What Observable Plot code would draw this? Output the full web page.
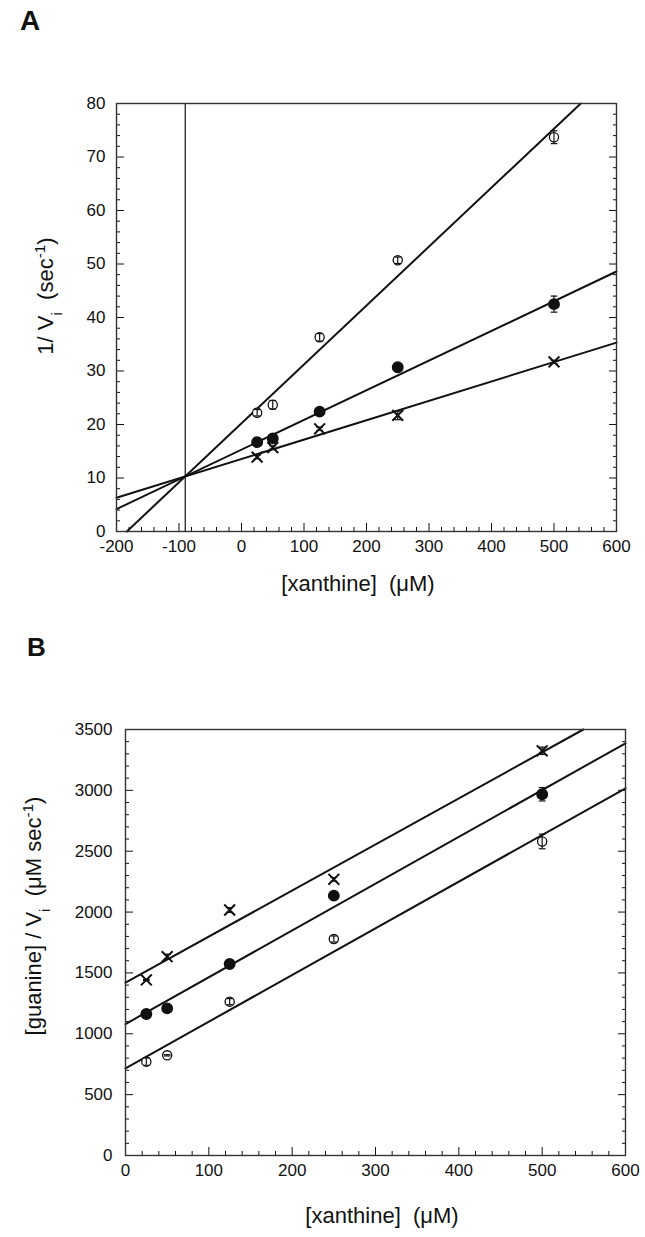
<!DOCTYPE html>
<html><head><meta charset="utf-8">
<script src="https://cdn.jsdelivr.net/npm/d3@7"></script>
<script src="https://cdn.jsdelivr.net/npm/@observablehq/plot@0.6"></script>
<style>
body{margin:0;background:#fff;}
#fig{width:645px;height:1237px;font-family:"Liberation Sans",Arial,Helvetica,sans-serif;}
#fig svg{display:block;}
</style></head><body><div id="fig"></div>
<script>
// ---------- Panel A : 1/Vi vs [xanthine] ----------
const concA = [25, 50, 125, 250, 500];
const openA = [22.2, 23.7, 36.3, 50.7, 73.7];
const openErrA = [0.6, 0.8, 0.7, 0.6, 1.2];
const filledA = [16.7, 17.4, 22.4, 30.7, 42.5];
const filledErrA = [0.4, 0.5, 0.4, 0.4, 1.5];
const crossA = [13.9, 15.7, 19.2, 21.7, 31.7];
const crossErrA = [0.3, 0.3, 0.3, 0.8, 0.3];
// fitted lines (end points [x, y])
const fitOpenA = [[-183.5, 0], [542.8, 80]];
const fitFilledA = [[-200, 4.2], [600, 48.6]];
const fitCrossA = [[-200, 6.3], [600, 35.3]];
const intersectA = [-90];
const xTicksA = [-200, -100, 0, 100, 200, 300, 400, 500, 600];
const yTicksA = [0, 10, 20, 30, 40, 50, 60, 70, 80];

// ---------- Panel B : [guanine]/Vi vs [xanthine] ----------
const concB = [25, 50, 125, 250, 500];
const crossB = [1442, 1633, 2017, 2269, 3325];
const crossErrB = [5, 20, 20, 15, 30];
const filledB = [1163, 1209, 1573, 2135, 2968];
const filledErrB = [20, 20, 20, 20, 55];
const openB = [771, 823, 1264, 1779, 2580];
const openErrB = [30, 5, 25, 25, 60];
const fitCrossB = [[0, 1420], [549.4, 3500]];
const fitFilledB = [[0, 1080], [600, 3387]];
const fitOpenB = [[0, 716], [600, 3017]];
const xTicksB = [0, 100, 200, 300, 400, 500, 600];
const yTicksB = [0, 500, 1000, 1500, 2000, 2500, 3000, 3500];

const FONT = '"Liberation Sans", Arial, Helvetica, sans-serif';
const INK = "#111";
const fmt = d => String(d);

const rows = (xs, ys, es) => xs.map((x, i) => ({x, y: ys[i], e: es[i]}));
const pts = (arr) => arr.map(([x, y]) => ({x, y}));
const cap = {draw(ctx, size) { const w = Math.sqrt(size) / 2; ctx.moveTo(-w, 0); ctx.lineTo(w, 0); }};

function minor(lo, hi, step, majorStep) {
  return d3.range(lo, hi + step / 2, step).filter(v => Math.abs(v % majorStep) > 1e-9);
}

function axes(xMaj, xMin, yMaj, yMin, pad) {
  const o = {label: null};
  return [
    Plot.axisX({...o, ticks: xMaj, tickSize: -8, fill: "none", stroke: INK}),
    Plot.axisX({...o, ticks: xMin, tickSize: -4, fill: "none", stroke: INK}),
    Plot.axisX({...o, ticks: xMaj, tickSize: 0, tickPadding: pad.x, tickFormat: fmt, fontSize: 17, fill: INK}),
    Plot.axisY({...o, ticks: yMaj, tickSize: -8, fill: "none", stroke: INK}),
    Plot.axisY({...o, ticks: yMin, tickSize: -4, fill: "none", stroke: INK}),
    Plot.axisY({...o, ticks: yMaj, tickSize: 0, tickPadding: pad.y, tickFormat: fmt, fontSize: 17, fill: INK}),
    Plot.axisY({...o, anchor: "right", ticks: yMaj, tickSize: -8, fill: "none", stroke: INK}),
    Plot.axisY({...o, anchor: "right", ticks: yMin, tickSize: -4, fill: "none", stroke: INK})
  ];
}

function seriesMarks(open, filled, cross, fits, capR) {
  const all = [...open, ...filled, ...cross];
  const m = fits.map(f => Plot.line(pts(f), {x: "x", y: "y", stroke: INK, strokeWidth: 2}));
  return [
    ...m,
    Plot.dot(open, {x: "x", y: "y", r: 4.6, fill: "white", stroke: INK, strokeWidth: 1.3}),
    Plot.ruleX(all, {x: "x", y1: d => d.y - d.e, y2: d => d.y + d.e, stroke: INK, strokeWidth: 1.2}),
    Plot.dot(filled, {x: "x", y: "y", r: 5.2, fill: INK, stroke: INK}),
    Plot.dot(cross, {x: "x", y: "y", r: 5, symbol: "times", stroke: INK, strokeWidth: 2}),
    Plot.dot(all, {x: "x", y: d => d.y - d.e, r: capR, symbol: cap, fill: "none", stroke: INK, strokeWidth: 1.2}),
    Plot.dot(all, {x: "x", y: d => d.y + d.e, r: capR, symbol: cap, fill: "none", stroke: INK, strokeWidth: 1.2})
  ];
}

function addText(svg, x, y, rotate, size, parts, weight) {
  const t = d3.select(svg).append("text")
    .attr("transform", `translate(${x},${y}) rotate(${rotate})`)
    .attr("text-anchor", rotate ? "middle" : (weight ? "start" : "middle"))
    .attr("font-family", FONT).attr("font-size", size).attr("fill", INK)
    .style("white-space", "pre");
  if (weight) t.attr("font-weight", weight);
  for (const [s, kind] of parts) {
    const ts = t.append("tspan").text(s);
    if (kind === "sub") ts.attr("baseline-shift", "sub").attr("font-size", size * 0.7);
    if (kind === "sup") ts.attr("baseline-shift", "super").attr("font-size", size * 0.7);
  }
}

// ---------- build A ----------
const plotA = Plot.plot({
  width: 645, height: 620,
  marginTop: 103, marginBottom: 89, marginLeft: 116, marginRight: 29,
  style: {fontFamily: FONT, fontSize: "17px", color: INK, background: "white"},
  x: {domain: [-200, 600]},
  y: {domain: [0, 80]},
  marks: [
    ...axes(xTicksA, minor(-200, 600, 20, 100), yTicksA, minor(0, 80, 2, 10), {x: 8, y: 11}),
    Plot.ruleX(intersectA, {stroke: INK, strokeWidth: 1.2}),
    ...seriesMarks(rows(concA, openA, openErrA), rows(concA, filledA, filledErrA), rows(concA, crossA, crossErrA),
      [fitOpenA, fitFilledA, fitCrossA], 3.8),
    Plot.frame({stroke: "#333", strokeWidth: 1.4})
  ]
});
addText(plotA, 20, 30, 0, 28, [["A"]], "bold");
addText(plotA, 358, 591, 0, 22, [["[xanthine]  (\u03bcM)"]]);
addText(plotA, 53, 296, -90, 22, [["1/ V"], ["i", "sub"], ["  (sec"], ["-1", "sup"], [")"]]);
document.getElementById("fig").append(plotA);

// ---------- build B ----------
const plotB = Plot.plot({
  width: 645, height: 617,
  marginTop: 109, marginBottom: 82, marginLeft: 125, marginRight: 20,
  style: {fontFamily: FONT, fontSize: "17px", color: INK, background: "white"},
  x: {domain: [0, 600]},
  y: {domain: [0, 3500]},
  marks: [
    ...axes(xTicksB, minor(0, 600, 20, 100), yTicksB, minor(0, 3500, 100, 500), {x: 8, y: 13}),
    ...seriesMarks(rows(concB, openB, openErrB), rows(concB, filledB, filledErrB), rows(concB, crossB, crossErrB),
      [fitOpenB, fitFilledB, fitCrossB], 3.8),
    Plot.frame({stroke: "#333", strokeWidth: 1.4})
  ]
});
addText(plotB, 27, 36, 0, 26, [["B"]], "bold");
addText(plotB, 382, 603, 0, 22, [["[xanthine]  (\u03bcM)"]]);
addText(plotB, 41, 296, -90, 22, [["[guanine] / V"], ["i", "sub"], ["  (\u03bcM sec"], ["-1", "sup"], [")"]]);
document.getElementById("fig").append(plotB);
</script>
</body></html>
